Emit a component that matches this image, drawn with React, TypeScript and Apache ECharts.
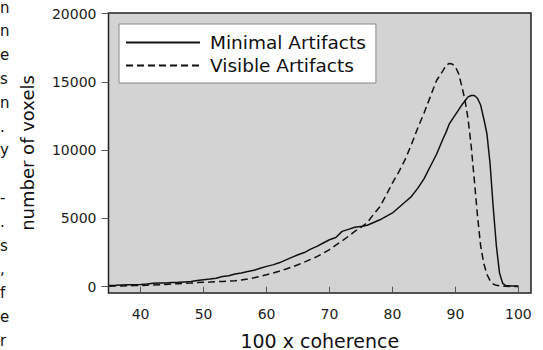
import React, { useEffect, useRef } from "react";
import * as echarts from "echarts";

const coherence = [
  35, 36, 37, 38, 39, 40, 41, 42, 43, 44, 45, 46, 47, 48, 49, 50, 51, 52, 53, 54,
  55, 56, 57, 58, 59, 60, 61, 62, 63, 64, 65, 66, 67, 68, 69, 70, 71, 72, 73, 74,
  75, 76, 77, 78, 79, 80, 81, 82, 83, 84, 85, 86, 87, 88, 88.5, 89, 89.5, 90, 90.5,
  91, 91.5, 92, 92.5, 93, 93.5, 94, 94.5, 95, 95.5, 96, 96.5, 97, 97.5, 98, 99, 100,
];

const minimalArtifacts = [
  90, 100, 120, 140, 150, 170, 200, 260, 270, 280, 300, 320, 350, 380, 450, 510, 560, 620, 750, 800,
  930, 1000, 1120, 1200, 1350, 1490, 1600, 1750, 1950, 2150, 2340, 2500, 2750, 2950, 3200, 3440, 3600, 4050, 4200, 4350,
  4400, 4500, 4700, 4900, 5150, 5400, 5800, 6200, 6600, 7200, 7900, 8800, 9700, 10800, 11300, 11900, 12250, 12600, 12950,
  13300, 13600, 13900, 14000, 14000, 13800, 13300, 12300, 11200, 9000, 5800, 3000, 1000, 250, 80, 60, 50,
];

const visibleArtifacts = [
  40, 50, 60, 70, 80, 90, 110, 130, 150, 170, 200, 220, 250, 270, 300, 320, 340, 370, 390, 420,
  440, 500, 570, 650, 750, 880, 1000, 1130, 1280, 1440, 1610, 1800, 2000, 2200, 2450, 2710, 3050, 3350, 3690, 4050,
  4350, 4700, 5300, 5860, 6700, 7600, 8400, 9300, 10400, 11600, 12700, 13900, 15100, 15800, 16200, 16350, 16300, 16100, 15600,
  14700, 13700, 12300, 10300, 7800, 5200, 3000, 1700, 900, 450, 200, 100, 60, 40, 30, 20, 20,
];

const xTicks = [40, 50, 60, 70, 80, 90, 100];
const yTicks = [0, 5000, 10000, 15000, 20000];

const sideLetters = ["n", "n", "e", "s", "n", ".", "y", "", "-", ".", "s", ",", "f", "e", "r"];

const FONT = "DejaVu Sans";

export default function App() {
  const ref = useRef<HTMLDivElement>(null);
  useEffect(() => {
    if (!ref.current) return;
    document.body.style.margin = "0";
    const chart = echarts.init(ref.current, null, { renderer: "svg" });
    const pairs = (ys: number[]) => coherence.map((x, i) => [x, ys[i]]);
    chart.setOption({
      animation: false,
      textStyle: { fontFamily: FONT },
      grid: {
        left: 108.5,
        right: 12,
        top: 13,
        bottom: 57,
        outerBoundsMode: "none",
        containLabel: false,
        show: true,
        backgroundColor: "#d3d3d3",
        borderColor: "#222",
        borderWidth: 1.5,
      },
      legend: {
        orient: "vertical",
        left: 119,
        top: 24,
        backgroundColor: "#ffffff",
        borderColor: "#888",
        borderWidth: 1,
        borderRadius: 0,
        padding: [7.5, 10, 6.5, 6],
        itemWidth: 74,
        itemHeight: 14,
        itemGap: 1,
        itemStyle: { opacity: 0 },
        textStyle: {
          fontFamily: FONT,
          fontSize: 18.5,
          color: "#111",
          lineHeight: 22,
          padding: [0, 0, 0, 5],
        },
        data: ["Minimal Artifacts", "Visible Artifacts"],
      },
      xAxis: {
        type: "value",
        min: 34.9,
        max: 102,
        name: "100 x coherence",
        nameLocation: "middle",
        nameGap: 38,
        nameTextStyle: { fontFamily: FONT, fontSize: 19, color: "#111" },
        axisLine: { show: false },
        axisTick: {
          show: true,
          length: 7,
          customValues: xTicks,
          lineStyle: { color: "#555", width: 1 },
        },
        axisLabel: {
          customValues: xTicks,
          margin: 14,
          fontFamily: FONT,
          fontSize: 14,
          color: "#222",
          formatter: (v: number) => String(v),
        },
        splitLine: { show: false },
      },
      yAxis: {
        type: "value",
        min: -460,
        max: 20040,
        name: "number of voxels",
        nameLocation: "middle",
        nameGap: 72,
        nameTextStyle: { fontFamily: FONT, fontSize: 18, color: "#111" },
        axisLine: { show: false },
        axisTick: {
          show: true,
          length: 7,
          customValues: yTicks,
          lineStyle: { color: "#555", width: 1 },
        },
        axisLabel: {
          customValues: yTicks,
          margin: 12,
          fontFamily: FONT,
          fontSize: 14,
          color: "#222",
          formatter: (v: number) => String(v),
        },
        splitLine: { show: false },
      },
      series: [
        {
          name: "Minimal Artifacts",
          type: "line",
          data: pairs(minimalArtifacts),
          symbol: "none",
          showSymbol: false,
          lineStyle: { color: "#111", width: 1.5, type: "solid" },
        },
        {
          name: "Visible Artifacts",
          type: "line",
          data: pairs(visibleArtifacts),
          symbol: "none",
          showSymbol: false,
          lineStyle: { color: "#111", width: 1.5, type: [7, 4] },
        },
      ],
      graphic: sideLetters
        .map((ch, k) => ({ ch, k }))
        .filter((d) => d.ch !== "")
        .map(({ ch, k }) => ({
          type: "text",
          x: 0,
          y: 7.5 + 23.8 * k,
          silent: true,
          style: {
            text: ch,
            textAlign: "left",
            textVerticalAlign: "middle",
            font: `15px ${FONT}`,
            fill: "#111",
          },
        })),
    });
    return () => chart.dispose();
  }, []);
  return <div ref={ref} style={{ width: 543, height: 350 }} />;
}
